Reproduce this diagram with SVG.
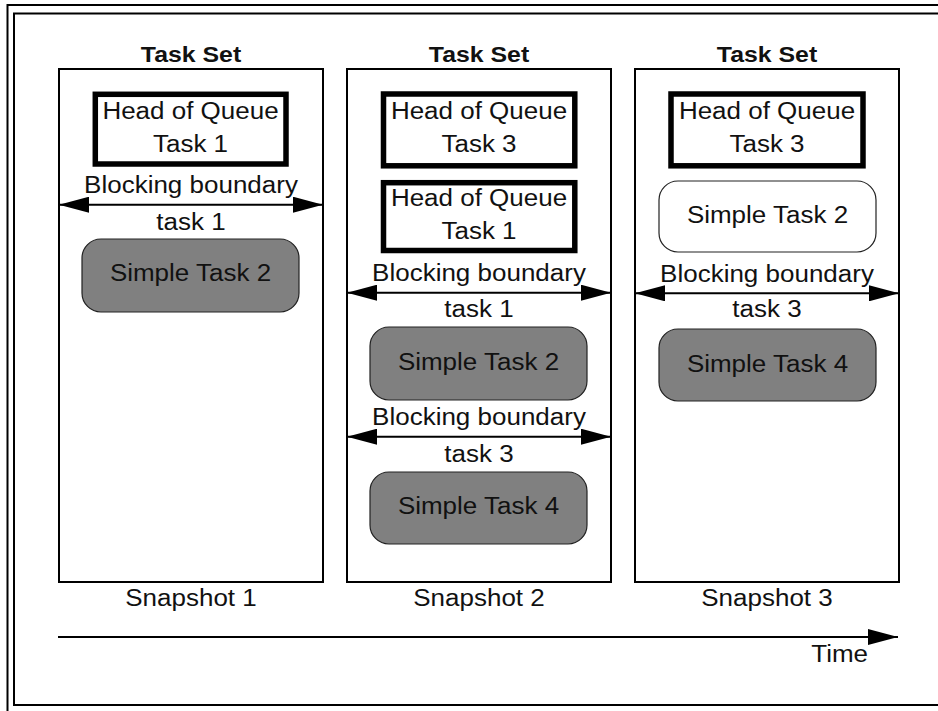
<svg xmlns="http://www.w3.org/2000/svg" width="938" height="711" viewBox="0 0 938 711">
<style>
text{font-family:"Liberation Sans",Arial,sans-serif;font-size:23px;fill:#111;text-anchor:middle}
.bold{font-weight:bold;font-size:22px}
.frame{fill:none;stroke:#000;stroke-width:2}
.set{fill:#fff;stroke:#000;stroke-width:2}
.hoq{fill:#fff;stroke:#000;stroke-width:5.5}
.simple{fill:#808080;stroke:#222;stroke-width:1.2}
.simplew{fill:#fff;stroke:#222;stroke-width:1.2}
.conn{stroke:#000;stroke-width:2;fill:none}
</style>
<defs>
<marker id="ah" markerUnits="userSpaceOnUse" markerWidth="30" markerHeight="16" refX="30" refY="8" orient="auto-start-reverse" viewBox="0 0 30 16">
<path d="M0,0 L30,8 L0,16 z" fill="#000"/>
</marker>
</defs>
<rect width="938" height="711" fill="#fff"/>
<g id="frame">
<path class="frame" d="M7.5,711 V5 H938"/>
<path class="frame" d="M938,13.5 H14 V705 H938"/>
</g>

<g id="snapshot1">
<rect class="set" x="59" y="69" width="264" height="513"/>
<text class="bold" transform="translate(191,62) scale(1.13,1)">Task Set</text>
<text transform="translate(191,606) scale(1.13,1)">Snapshot 1</text>
</g>
<g id="s1-hoq1">
<rect class="hoq" x="95.3" y="94.3" width="190.7" height="69.7"/>
<text transform="translate(190.5,119) scale(1.13,1)">Head of Queue</text>
<text transform="translate(190.5,151.7) scale(1.13,1)">Task 1</text>
</g>
<g id="s1-simple2">
<rect class="simple" x="82" y="239" width="217" height="73" rx="19"/>
<text transform="translate(190.5,281) scale(1.13,1)">Simple Task 2</text>
</g>

<g id="snapshot2">
<rect class="set" x="347" y="69" width="264" height="513"/>
<text class="bold" transform="translate(479,62) scale(1.13,1)">Task Set</text>
<text transform="translate(479,606) scale(1.13,1)">Snapshot 2</text>
</g>
<g id="s2-hoq3">
<rect class="hoq" x="383.5" y="94" width="191.3" height="71.8"/>
<text transform="translate(479,119) scale(1.13,1)">Head of Queue</text>
<text transform="translate(479,151.7) scale(1.13,1)">Task 3</text>
</g>
<g id="s2-hoq1">
<rect class="hoq" x="383.5" y="182.7" width="191.3" height="67.8"/>
<text transform="translate(479,206) scale(1.13,1)">Head of Queue</text>
<text transform="translate(479,239.3) scale(1.13,1)">Task 1</text>
</g>
<g id="s2-simple2">
<rect class="simple" x="370" y="327" width="217" height="73" rx="19"/>
<text transform="translate(478.5,370) scale(1.13,1)">Simple Task 2</text>
</g>
<g id="s2-simple4">
<rect class="simple" x="370" y="472" width="217" height="72" rx="19"/>
<text transform="translate(478.5,514) scale(1.13,1)">Simple Task 4</text>
</g>

<g id="snapshot3">
<rect class="set" x="635" y="69" width="264" height="513"/>
<text class="bold" transform="translate(767,62) scale(1.13,1)">Task Set</text>
<text transform="translate(767,606) scale(1.13,1)">Snapshot 3</text>
</g>
<g id="s3-hoq3">
<rect class="hoq" x="671" y="94" width="192" height="71.8"/>
<text transform="translate(767,119) scale(1.13,1)">Head of Queue</text>
<text transform="translate(767,151.7) scale(1.13,1)">Task 3</text>
</g>
<g id="s3-simple2">
<rect class="simplew" x="659" y="181" width="217" height="71" rx="19"/>
<text transform="translate(767.5,222.7) scale(1.13,1)">Simple Task 2</text>
</g>
<g id="s3-simple4">
<rect class="simple" x="659" y="329" width="217" height="72" rx="19"/>
<text transform="translate(767.5,371.7) scale(1.13,1)">Simple Task 4</text>
</g>

<g id="connectors">
<line class="conn" x1="59" y1="204.7" x2="323" y2="204.7" marker-start="url(#ah)" marker-end="url(#ah)"/>
<line class="conn" x1="347" y1="292.7" x2="611" y2="292.7" marker-start="url(#ah)" marker-end="url(#ah)"/>
<line class="conn" x1="347" y1="436.7" x2="611" y2="436.7" marker-start="url(#ah)" marker-end="url(#ah)"/>
<line class="conn" x1="635" y1="293.3" x2="899" y2="293.3" marker-start="url(#ah)" marker-end="url(#ah)"/>
<line class="conn" x1="58" y1="637" x2="898" y2="637" marker-end="url(#ah)"/>
</g>
<g id="connector-labels">
<text transform="translate(191,193.3) scale(1.13,1)">Blocking boundary</text>
<text transform="translate(191,230) scale(1.13,1)">task 1</text>
<text transform="translate(479,281) scale(1.13,1)">Blocking boundary</text>
<text transform="translate(479,316.7) scale(1.13,1)">task 1</text>
<text transform="translate(479,425) scale(1.13,1)">Blocking boundary</text>
<text transform="translate(479,461.7) scale(1.13,1)">task 3</text>
<text transform="translate(767,281.7) scale(1.13,1)">Blocking boundary</text>
<text transform="translate(767,317) scale(1.13,1)">task 3</text>
<text style="text-anchor:end" transform="translate(868,662) scale(1.13,1)">Time</text>
</g>
</svg>
